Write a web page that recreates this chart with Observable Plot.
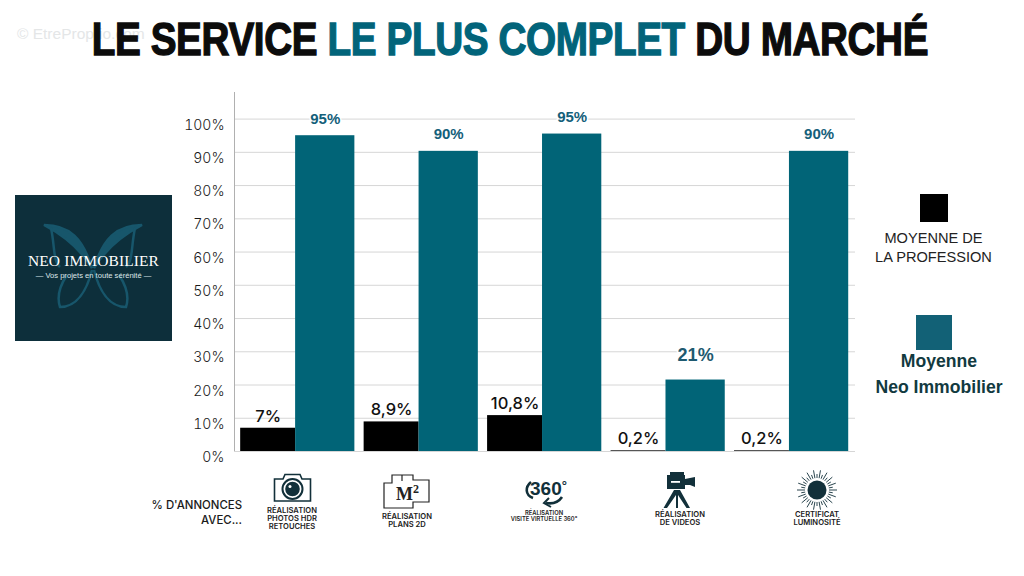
<!DOCTYPE html>
<html lang="fr"><head><meta charset="utf-8">
<script src="https://cdn.jsdelivr.net/npm/d3@7"></script>
<script src="https://cdn.jsdelivr.net/npm/@observablehq/plot@0.6"></script>
<style>
html,body{margin:0;padding:0;background:#fff;width:1024px;height:576px;overflow:hidden}
#page{position:relative;width:1024px;height:576px;overflow:hidden}
#chart{position:absolute;left:0;top:0}
.abs{position:absolute;white-space:nowrap}
#title{left:-2px;width:1024px;top:13px;text-align:center;font:bold 41px "Liberation Sans",sans-serif;color:#0c0c0c;transform:scale(.943,1.13);transform-origin:510px 0;-webkit-text-stroke:1.2px currentColor;letter-spacing:-.4px}
#title span{color:#02647a}
.cap{font-family:"Inter",sans-serif;font-weight:600;color:#1b1b1b;text-align:center;line-height:8px;font-size:7.6px;transform:translateX(-50%)}
.ico{position:absolute;overflow:visible}
</style></head><body><div id="page">
<div id="chart"></div>
<div class="abs" style="left:17px;top:25px;font:15.5px 'Liberation Sans',sans-serif;color:#e4e6e7">© EtreProprio.com</div>
<div class="abs" id="title">LE SERVICE <span>LE PLUS COMPLET</span> DU MARCHÉ</div>
<div class="abs" style="left:15px;top:195px;width:157px;height:146px;background:#0d2f3b;overflow:hidden;color:#fff">
<svg width="157" height="146" style="position:absolute;left:0;top:0" fill="none" stroke="#17566b" stroke-width="2.500">
<path d="M29 30C55 30 68 44 77 73C66 55 48 40 29 30ZM127 30C101 30 88 44 79 73C90 55 108 40 127 30Z" fill="#17566b"/>
<path d="M36 33C40 52 38 66 45 72M120 33C116 52 118 66 111 72M52 80C42 95 43 106 45 112C62 112 72 95 77 75M104 80C114 95 113 106 111 112C94 112 84 95 79 75"/></svg>
<div style="position:absolute;left:0;width:157px;top:57px;text-align:center;font:15.500px 'Liberation Serif',serif;letter-spacing:.1px">NEO IMMOBILIER</div>
<div style="position:absolute;left:0;width:157px;top:76px;text-align:center;font:7.600px 'Liberation Sans',sans-serif;color:#dfe7ea">— Vos projets en toute sérénité —</div>
</div>
<div class="abs" style="left:920px;top:194px;width:28px;height:28px;background:#000"></div>
<div class="abs" style="left:933.500px;top:229px;transform:translateX(-50%);text-align:center;font:14.600px/19px 'Liberation Sans',sans-serif;color:#222">MOYENNE DE<br>LA PROFESSION</div>
<div class="abs" style="left:916px;top:315px;width:36px;height:35px;background:#126176"></div>
<div class="abs" style="left:939px;top:348px;transform:translateX(-50%);text-align:center;font:bold 17.600px/26px 'Liberation Sans',sans-serif;color:#123a3f">Moyenne<br>Neo Immobilier</div>
<div class="abs" style="right:782px;top:498px;text-align:right;font:500 11.400px/15px Inter,sans-serif;color:#1a1a1a">% D'ANNONCES<br>AVEC...</div>

<svg class="ico" style="left:273px;top:473px" width="40" height="30" fill="none" stroke="#12303a" stroke-width="1.600"><path d="M1.500 6H10L12 1.500H27L29 6H37.500V28H1.500Z"/><circle cx="19.500" cy="16" r="10" stroke-width="2"/><circle cx="19.500" cy="16" r="6.500" fill="#12303a"/><circle cx="17" cy="13.500" r="1.500" fill="#fff" stroke="none"/></svg>
<svg class="ico" style="left:383px;top:474px" width="48" height="36" fill="none" stroke="#222" stroke-width="1.200"><path d="M1 9H9V1H30V6H46V28H30V34H1Z"/><path d="M19 1V7"/><text x="13" y="26" font-family="Liberation Serif,serif" font-weight="bold" font-size="18" fill="#222" stroke="none">M<tspan font-size="12" dy="-7">2</tspan></text></svg>
<svg class="ico" style="left:524px;top:478px" width="42" height="30" fill="none" stroke="#12303a" stroke-width="2.600"><text x="6" y="17" font-family="Liberation Sans,sans-serif" font-weight="bold" font-size="19" fill="#12303a" stroke="none">360<tspan font-size="13" dy="-5">°</tspan></text><path d="M7 4C1 9 1 17 9 20M38 19C34 25 28 26 22 25"/><path d="M25 20L20 25L27 29" stroke-width="2"/></svg>
<svg class="ico" style="left:660px;top:470px" width="37" height="39" fill="#12303a" stroke="none"><rect x="7" y="5" width="18" height="14"/><rect x="10" y="2" width="14" height="4"/><path d="M25 9L35 7V17L30 15L25 15Z"/><rect x="11" y="11" width="9" height="1.800" fill="#fff"/><path d="M14 20H20L30 38H26.500L18 25V38H16V25L7 38H3.500Z"/></svg>
<svg class="ico" id="sun" style="left:797px;top:470px" width="40" height="40"><circle cx="20" cy="20" r="9.500" fill="#12303a"/></svg>

<div class="abs cap" style="left:292px;top:507px">RÉALISATION<br>PHOTOS HDR<br>RETOUCHES</div>
<div class="abs cap" style="left:407px;top:513px">RÉALISATION<br>PLANS 2D</div>
<div class="abs cap" style="left:544px;top:510px;font-size:5.800px;line-height:6px">RÉALISATION<br>VISITE VIRTUELLE 360°</div>
<div class="abs cap" style="left:680px;top:511px">RÉALISATION<br>DE VIDEOS</div>
<div class="abs cap" style="left:817px;top:511px">CERTIFICAT<br>LUMINOSITÉ</div>
</div>
<script>
const services = ["Photos HDR", "Plans 2D", "Visite 360", "Vidéos", "Luminosité"];
const profession = [7, 8.9, 10.8, 0.2, 0.2];
const neo = [95, 90.3, 95.5, 21.5, 90.3];
const professionLabels = ["7%", "8,9%", "10,8%", "0,2%", "0,2%"];
const neoLabels = ["95%", "90%", "95%", "21%", "90%"];
const yTicks = [0,10,20,30,40,50,60,70,80,90,100];

const proRows = services.map((s,i)=>({i, value:profession[i], label:professionLabels[i]}));
const neoRows = services.map((s,i)=>({i, value:neo[i], label:neoLabels[i]}));
const start=.05, mid=.495, end=.975;
const font = "Inter, sans-serif";
const plot = Plot.plot({
  width:1024, height:576,
  marginLeft:234, marginRight:169, marginTop:92, marginBottom:125,
  style:{background:"transparent", fontFamily:font},
  x:{domain:[0,services.length+.03], axis:null},
  y:{domain:[0,108], axis:null},
  marks:[
    Plot.ruleY(yTicks,{stroke:"#d6d6d6",strokeWidth:1}),
    Plot.ruleX([0],{stroke:"#b0b0b0"}),
    Plot.axisY(yTicks,{anchor:"left",tickSize:0,tickPadding:10,dy:6,fontSize:14,fontWeight:300,fill:"#1a1a1a",tickFormat:d=>d+"%",label:null}),
    Plot.rectY(proRows,{x1:d=>d.i+start,x2:d=>d.i+mid,y:"value",fill:"#000"}),
    Plot.rectY(neoRows,{x1:d=>d.i+mid,x2:d=>d.i+end,y:"value",fill:"#016477"}),
    Plot.text(neoRows.filter(d=>d.value>=50),{x:d=>d.i+(mid+end)/2,y:"value",text:"label",dy:-17,fontSize:15,fontWeight:"bold",fontFamily:"Liberation Sans, sans-serif",fill:"#14607a",stroke:"#fff",strokeWidth:3}),
    Plot.text(neoRows.filter(d=>d.value<50),{x:d=>d.i+(mid+end)/2,y:"value",text:"label",dy:-25,fontSize:18,fontWeight:"bold",fontFamily:"Liberation Sans, sans-serif",fill:"#1e5a70",stroke:"#fff",strokeWidth:3}),
    Plot.text(proRows,{x:d=>d.i+(start+mid)/2,y:"value",text:"label",dy:-12,fontSize:16.5,fontWeight:500,fill:"#111"})
  ]
});
document.getElementById("chart").append(plot);

// soleil : rayons de l'icône Luminosité
const sun = d3.select("#sun");
d3.range(36).forEach(i=>{
  const a=i*Math.PI/18, r2=i%2?16:20;
  sun.append("line").attr("x1",20+12*Math.cos(a)).attr("y1",20+12*Math.sin(a))
    .attr("x2",20+r2*Math.cos(a)).attr("y2",20+r2*Math.sin(a)).attr("stroke","#12303a").attr("stroke-width",.9);
});
</script>
</body></html>
